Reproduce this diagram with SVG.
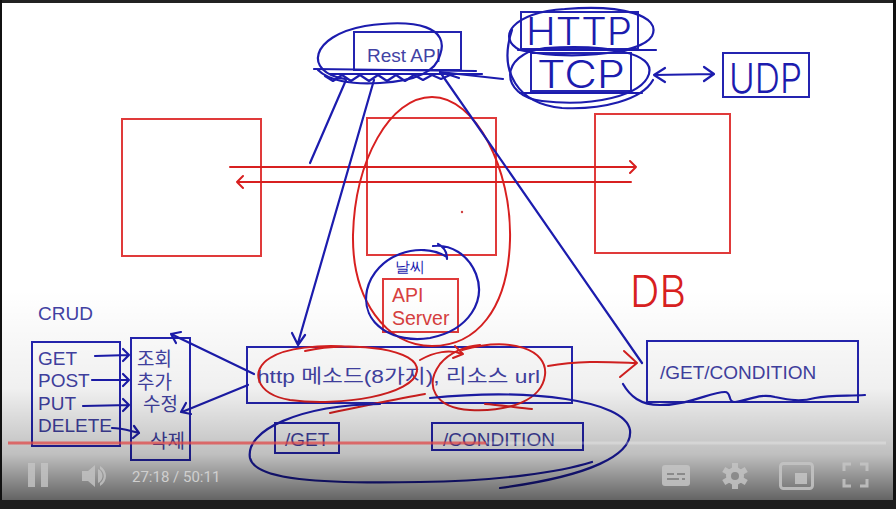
<svg xmlns="http://www.w3.org/2000/svg" width="896" height="509" viewBox="0 0 896 509">
<defs>
<linearGradient id="shade" x1="0" y1="0" x2="0" y2="1">
<stop offset="0" stop-color="#000" stop-opacity="0"/>
<stop offset="0.45" stop-color="#000" stop-opacity="0.06"/>
<stop offset="0.75" stop-color="#000" stop-opacity="0.25"/>
<stop offset="1" stop-color="#000" stop-opacity="0.68"/>
</linearGradient>
<style>
.rbox{fill:none;stroke:#e03a3a;stroke-width:2}
.bbox{fill:none;stroke:#2424b0;stroke-width:2}
.bink{fill:none;stroke:#1c1cae;stroke-width:2.2;stroke-linecap:round;stroke-linejoin:round}
.rink{fill:none;stroke:#d82020;stroke-width:2;stroke-linecap:round;stroke-linejoin:round}
.t{font-family:"Liberation Sans","Noto Sans CJK KR",sans-serif;font-size:19px;fill:#4242a4}
.tr{font-family:"Liberation Sans",sans-serif;font-size:19.5px;fill:#d84040}
.hand{font-family:Inter,Roboto,"Noto Sans",sans-serif;font-weight:300;fill:#1c1cae}
.ctl{fill:#c4c4c4}
</style>
</defs>
<rect x="0" y="0" width="896" height="509" fill="#ffffff"/>

<g id="rest-api">
<rect class="bbox" x="354" y="32" width="107" height="38"/>
<text class="t" x="367" y="62" font-size="16.5">Rest API</text>
</g>
<g id="http">
<rect class="bbox" x="521" y="12" width="117" height="37"/>
<text class="hand" x="526" y="45" font-size="38" textLength="106" lengthAdjust="spacingAndGlyphs">HTTP</text>
</g>
<g id="tcp">
<rect class="bbox" x="531" y="53" width="100" height="38"/>
<text class="hand" x="537" y="88" font-size="38" textLength="88" lengthAdjust="spacingAndGlyphs">TCP</text>
</g>
<g id="udp">
<rect class="bbox" x="723" y="53" width="86" height="44"/>
<text class="hand" x="729" y="93" font-size="41" textLength="73" lengthAdjust="spacingAndGlyphs">UDP</text>
</g>

<g id="box-left"><rect class="rbox" x="122" y="119" width="139" height="137"/></g>
<g id="box-center"><rect class="rbox" x="367" y="118" width="129" height="137"/><circle cx="462" cy="212" r="1.2" fill="#d04040"/></g>
<g id="box-right"><rect class="rbox" x="595" y="114" width="135" height="139"/></g>

<g id="api-server">
<rect class="rbox" x="383" y="279" width="75" height="53"/>
<text class="tr" x="392" y="302">API</text>
<text class="tr" x="392" y="325">Server</text>
</g>
<g id="weather-label"><text class="hand" x="395" y="272" font-size="15" font-weight="400">날씨</text></g>

<g id="db-label"><text x="630" y="307" font-family="Inter,Roboto,'Noto Sans',sans-serif" font-weight="300" font-size="44" fill="#d82020" textLength="56" lengthAdjust="spacingAndGlyphs">DB</text></g>

<g id="http-method">
<rect class="bbox" x="247" y="347" width="325" height="56"/>
<text class="t" x="257" y="383" textLength="283" lengthAdjust="spacingAndGlyphs">http 메소드(8가지), 리소스 url</text>
</g>
<g id="get"><rect class="bbox" x="275" y="423" width="64" height="30"/><text class="t" x="285" y="446">/GET</text></g>
<g id="condition"><rect class="bbox" x="432" y="423" width="151" height="27"/><text class="t" x="443" y="446" font-size="19.5">/CONDITION</text></g>
<g id="get-condition"><rect class="bbox" x="647" y="341" width="211" height="61"/><text class="t" x="660" y="379" font-size="20.5">/GET/CONDITION</text></g>

<g id="crud-label"><text class="t" x="38" y="320">CRUD</text></g>
<g id="crud-methods">
<rect class="bbox" x="32" y="342" width="88" height="104"/>
<text class="t" x="38" y="365">GET</text>
<text class="t" x="38" y="387">POST</text>
<text class="t" x="38" y="410">PUT</text>
<text class="t" x="38" y="432">DELETE</text>
</g>
<g id="crud-korean">
<rect class="bbox" x="131" y="338" width="59" height="122"/>
<text class="t" x="137" y="366">조회</text>
<text class="t" x="137" y="389">추가</text>
<text class="t" x="143" y="411">수정</text>
<text class="t" x="150" y="448">삭제</text>
</g>

<g id="connectors">
<path class="bink" d="M 345 79 C 303 72 310 36 365 26 C 418 18 450 28 440 55 C 436 72 415 81 380 83 C 350 85 328 80 318 70"/>
<path class="bink" d="M 314 69 L 476 71 M 330 74 L 482 74"/>
<path class="bink" stroke-width="1.6" d="M 325 76 l 8 5 l 9 -6 l 9 6 l 9 -6 l 9 6 l 9 -6 l 9 6 l 9 -6 l 9 6 l 9 -6 l 9 5 l 9 -5 l 9 4 l 9 -4 l 9 3"/>
<path class="bink" d="M 440 72 L 503 79"/>
<path class="bink" d="M 565 9 C 512 12 496 38 520 50 C 560 60 640 56 652 36 C 662 16 622 4 565 9"/>
<path class="bink" d="M 545 48 C 498 54 500 96 542 101 C 592 107 642 96 649 74 C 655 54 612 44 545 48"/>
<path class="bink" d="M 512 30 C 498 72 518 104 562 108 C 602 110 642 100 653 80"/>
<path class="bink" d="M 518 50 L 656 50 M 520 93 L 642 93"/>
<path class="bink" d="M 654 75 L 714 74 M 665 68 L 654 75 L 665 82 M 704 67 L 714 74 L 704 81"/>
<path class="rink" d="M 230 167 L 636 167 M 630 161 L 636 167 L 630 173"/>
<path class="rink" d="M 631 182 L 237 182 M 243 176 L 237 182 L 243 188"/>
<path class="rink" d="M 432 97 C 476 97 512 170 510 240 C 508 310 476 346 432 346 C 386 346 352 300 353 235 C 355 160 390 97 432 97 Z"/>
<path class="bink" d="M 346 80 L 310 163"/>
<path class="bink" d="M 374 80 L 298 343 M 292 333 L 298 345 L 305 335"/>
<path class="bink" d="M 440 72 L 642 363"/>
<path class="bink" d="M 447 257 C 420 240 375 255 367 290 C 360 325 395 344 430 338 C 470 330 486 300 476 274 C 468 254 450 244 433 246 M 438 244 C 444 247 447 252 447 259"/>
<path class="rink" d="M 305 351 C 355 340 420 350 417 371 C 414 395 340 407 290 400 C 255 394 250 370 270 358 C 285 348 320 344 352 347"/>
<path class="rink" d="M 462 350 C 512 336 548 350 545 375 C 542 400 510 412 470 410 C 435 408 424 386 440 364 C 450 352 466 346 480 345"/>
<path class="rink" d="M 420 360 C 434 352 450 349 462 354 M 455 346 L 463 354 L 453 358"/>
<path class="rink" d="M 330 413 C 370 405 400 398 425 394 M 485 404 C 500 405 520 408 532 409"/>
<path class="rink" d="M 548 366 C 580 360 610 362 636 363 M 624 351 L 637 363 L 620 377"/>
<path class="bink" d="M 380 404 C 300 405 245 430 250 458 C 255 480 320 484 420 482 C 500 481 560 472 592 462"/>
<path class="bink" d="M 430 398 C 530 388 625 400 630 430 C 633 455 590 476 500 488"/>
<path class="bink" d="M 623 384 C 630 396 640 405 660 405 C 690 405 710 392 725 392 C 732 392 727 402 735 402 C 750 400 760 393 775 397 C 790 400 800 402 815 398 C 830 395 845 396 865 395"/>
<path class="bink" d="M 95 356 L 129 355 M 123 349 L 129 355 L 123 361"/>
<path class="bink" d="M 92 380 L 129 380 M 123 374 L 129 380 L 123 386"/>
<path class="bink" d="M 83 406 L 129 405 M 123 399 L 129 405 L 123 411"/>
<path class="bink" d="M 112 428 C 122 428 130 431 139 433 M 134 426 L 139 433 L 133 438"/>
<path class="bink" d="M 254 374 L 171 334 M 181 332 L 171 334 L 176 343"/>
<path class="bink" d="M 248 385 L 182 412 M 186 403 L 181 412 L 191 414"/>
</g>

<g id="player-overlay">
<rect x="0" y="290" width="896" height="219" fill="url(#shade)"/>
<rect x="8" y="441.5" width="478" height="3" fill="#e04848" opacity="0.75"/>
<rect x="486" y="441.5" width="400" height="3" fill="#ffffff" opacity="0.25"/>
<rect class="ctl" x="28" y="463" width="7" height="24" opacity="0.8"/>
<rect class="ctl" x="41" y="463" width="7" height="24" opacity="0.8"/>
<path class="ctl" opacity="0.8" d="M 82 471 L 88 471 L 95 465 L 95 487 L 88 481 L 82 481 Z M 98 469 C 104 472 104 480 98 483 Z M 100 466 C 108 471 108 481 100 486 L 100 483 C 105 479 105 473 100 469 Z"/>
<text x="132" y="482" font-family="Roboto,'Liberation Sans',sans-serif" font-size="15" fill="#cfcfcf">27:18 / 50:11</text>
<rect class="ctl" x="662" y="465" width="28" height="21" rx="3" opacity="0.85"/>
<path d="M 667 474 L 674 474 M 677 474 L 685 474 M 667 479 L 679 479 M 682 479 L 685 479" stroke="#8a8a8a" stroke-width="2"/>
<g class="ctl" opacity="0.85" transform="translate(735 476)">
<circle r="9"/>
<rect x="-3" y="-13" width="6" height="26"/>
<rect x="-3" y="-13" width="6" height="26" transform="rotate(60)"/>
<rect x="-3" y="-13" width="6" height="26" transform="rotate(120)"/>
<circle r="4" fill="#8a8a8a"/>
</g>
<rect x="780.5" y="463.5" width="32" height="25" rx="3" fill="none" stroke="#c4c4c4" stroke-width="3" opacity="0.85"/>
<rect class="ctl" x="795" y="473" width="12" height="11" opacity="0.85"/>
<path d="M 844 471 L 844 464 L 851 464 M 860 464 L 867 464 L 867 471 M 867 479 L 867 486 L 860 486 M 851 486 L 844 486 L 844 479" fill="none" stroke="#c4c4c4" stroke-width="3" opacity="0.85"/>
</g>

<g id="frame">
<rect x="0" y="0" width="896" height="3" fill="#222"/>
<rect x="0" y="0" width="2" height="509" fill="#111"/>
<rect x="893" y="0" width="3" height="509" fill="#111"/>
<rect x="0" y="500" width="896" height="9" fill="#1e1e1e"/>
</g>
</svg>
